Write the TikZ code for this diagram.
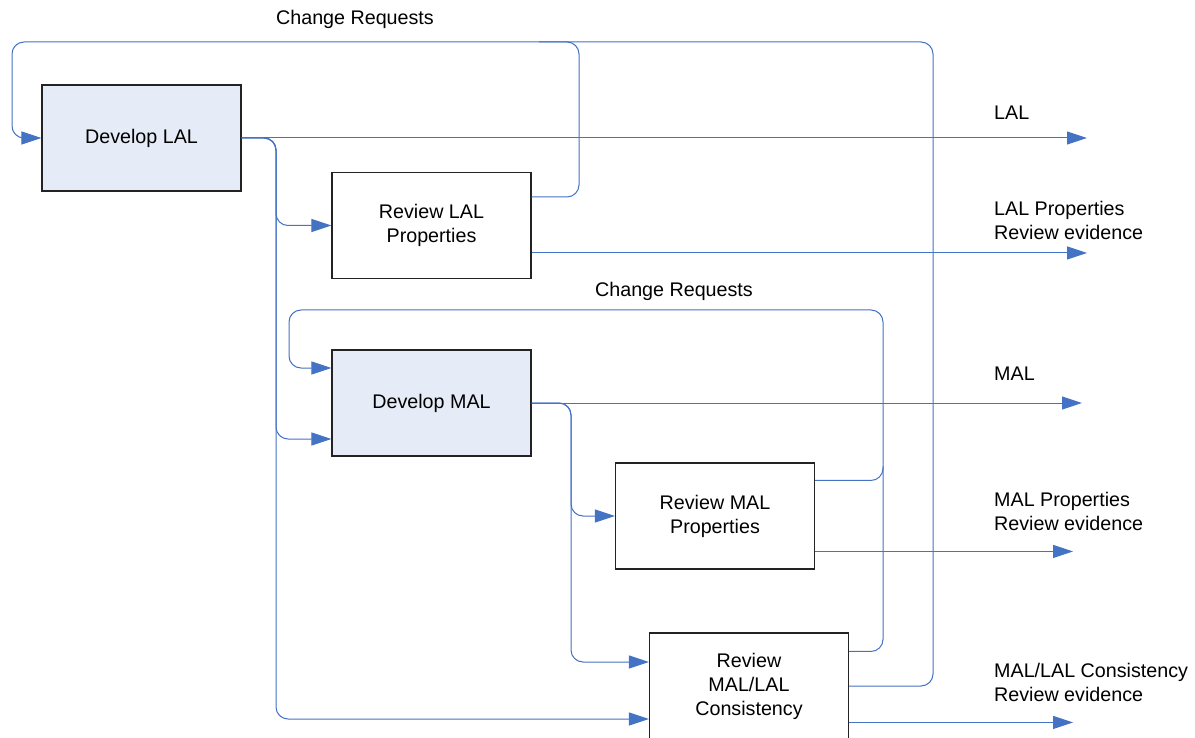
\documentclass[tikz,border=0pt]{standalone}
\usepackage{fontspec}
\setmainfont{Liberation Sans}
\usetikzlibrary{arrows.meta,calc}
\definecolor{flowblue}{RGB}{68,114,196}
\definecolor{boxfill}{RGB}{230,236,247}
\definecolor{boxline}{RGB}{35,35,35}
\begin{document}
\begin{tikzpicture}[x=1pt,y=-1pt,
  txt/.style={font=\fontsize{19.7}{24}\selectfont},
  proc/.style={txt, draw=boxline, line width=1.1pt, minimum width=199pt,
    minimum height=106pt, align=center, inner sep=0pt},
  devbox/.style={proc, fill=boxfill},
  revbox/.style={proc, fill=white},
  flow/.style={draw=flowblue, line width=1pt, rounded corners=12pt},
  feed/.style={flow, -{Triangle[length=20pt,width=13pt]}},
  lbl/.style={txt, align=left, anchor=west, inner sep=0pt}]
\useasboundingbox (0,0) rectangle (1195,738);
\clip (0,0) rectangle (1195,738);

% process boxes
\node[devbox] (dlal)  at (141.5,138)   {Develop LAL};
\node[revbox] (rlal)  at (431.5,225.5) {Review LAL\\Properties};
\node[devbox] (dmal)  at (431.5,403)   {Develop MAL};
\node[revbox] (rmal)  at (715,516)     {Review MAL\\Properties};
\node[revbox] (rcons) at (749,686)     {Review\\MAL/LAL\\Consistency};

% routing points
\coordinate (trunkL) at (276,0);
\coordinate (trunkM) at (571,0);
\coordinate (loopOuterR) at (933,42);
\coordinate (loopOuterL) at (12,42);
\coordinate (loopOuterMid) at (579,42);
\coordinate (loopInnerR) at (883,310);
\coordinate (loopInnerL) at (289,310);
\coordinate (dmalInA) at ($(dmal.west)+(0,-35)$);
\coordinate (dmalInB) at ($(dmal.west)+(0,36)$);
\coordinate (rconsInA) at ($(rcons.west)+(0,-24)$);
\coordinate (rconsInB) at ($(rcons.west)+(0,33)$);
\coordinate (rlalCR) at ($(rlal.north east)+(0,25)$);
\coordinate (rlalOut) at ($(rlal.north east)+(0,81)$);
\coordinate (rmalCR) at ($(rmal.north east)+(0,18)$);
\coordinate (rmalOut) at ($(rmal.north east)+(0,89)$);
\coordinate (rconsCR) at ($(rcons.north east)+(0,19)$);
\coordinate (rconsOut) at ($(rcons.north east)+(0,90)$);
\coordinate (innerJoin) at ($(loopInnerR |- rmalCR)+(0,-14)$);

% outgoing products
\coordinate (lalEnd) at (1087,0);
\coordinate (lalPropEnd) at (1087,0);
\coordinate (malEnd) at (1082,0);
\coordinate (malPropEnd) at (1073,0);
\coordinate (consEnd) at (1073,0);

\draw[feed] (dlal.east) -- (dlal.east -| lalEnd);
\draw[feed] (rlalOut) -- (rlalOut -| lalPropEnd);
\draw[feed] (dmal.east) -- (dmal.east -| malEnd);
\draw[feed] (rmalOut) -- (rmalOut -| malPropEnd);
\draw[feed] (rconsOut) -- (rconsOut -| consEnd);

% LAL distribution
\draw[feed] (dlal.east) -| (trunkL |- rlal.west) -- (rlal.west);
\draw[feed] (dlal.east) -| (trunkL |- dmalInB) -- (dmalInB);
\draw[feed] (dlal.east) -| (trunkL |- rconsInB) -- (rconsInB);

% MAL distribution
\draw[feed] (dmal.east) -| (trunkM |- rmal.west) -- (rmal.west);
\draw[feed] (dmal.east) -| (trunkM |- rconsInA) -- (rconsInA);

% change requests back to Develop LAL
\draw[feed] (rcons.east) -| (loopOuterR) -| (loopOuterL |- dlal.west) -- (dlal.west);
\draw[flow] (rlalCR) -| (loopOuterMid) -- ($(loopOuterMid)+(-40,0)$);

% change requests back to Develop MAL
\draw[feed] (rmalCR) -| (loopInnerR) -| (loopInnerL |- dmalInA) -- (dmalInA);
\draw[flow] (rconsCR) -| (innerJoin);

% labels
\node[txt] (crTop) at (355,19) {Change Requests};
\node[txt] (crMid) at (674,291) {Change Requests};
\node[lbl] (lLal) at (994,113) {LAL};
\node[lbl] (lLalProp) at (994,220) {LAL Properties\\Review evidence};
\node[lbl] (lMal) at (994,374) {MAL};
\node[lbl] (lMalProp) at (994,511) {MAL Properties\\Review evidence};
\node[lbl] (lCons) at (994,682) {MAL/LAL Consistency\\Review evidence};
\end{tikzpicture}
\end{document}
